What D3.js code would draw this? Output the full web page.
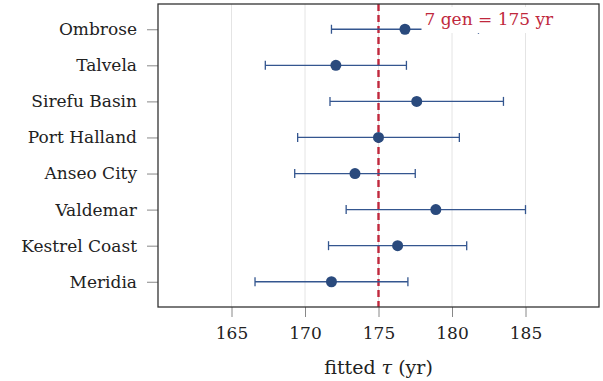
<!DOCTYPE html>
<html>
<head>
<meta charset="UTF-8">
<title>fitted tau</title>
<style>
body { margin: 0; background: #fff; }
svg text { font-family: "DejaVu Serif", serif; fill: #222; }
.grid line { stroke: #e4e4e4; stroke-width: 1; }
.tick text { font-size: 17px; }
.tick line { stroke: #888; }
.err { stroke: #34568f; stroke-width: 1.3; fill: none; }
.pt { fill: #2a4a7d; }
.ref { stroke: #c0283d; stroke-width: 2.4; stroke-dasharray: 7 4; }
</style>
</head>
<body>
<div class="chart"></div>
<script src="https://cdn.jsdelivr.net/npm/d3@7"></script>
<script>
// sites, top to bottom
const sites = ['Ombrose', 'Talvela', 'Sirefu Basin', 'Port Halland', 'Anseo City', 'Valdemar', 'Kestrel Coast', 'Meridia'];
const tauFit = [176.8, 172.1, 177.6, 175.0, 173.4, 178.9, 176.3, 171.8];
const tauLo  = [171.8, 167.3, 171.7, 169.5, 169.3, 172.8, 171.6, 166.6];
const tauHi  = [181.8, 176.9, 183.5, 180.5, 177.5, 185.0, 181.0, 177.0];
const xTicks = [165, 170, 175, 180, 185];
const refTau = 175;
const refLabel = '7 gen = 175 yr';

let width = 603, height = 381,
    margin = {top: 4, right: 4, bottom: 74, left: 158};

let svg = d3.select('.chart').append('svg')
    .attr('width', width)
    .attr('height', height);

let x = d3.scaleLinear()
    .domain([160, 190])
    .range([margin.left, width - margin.right]);

let y = d3.scalePoint()
    .domain(sites)
    .range([margin.top, height - margin.bottom])
    .padding(0.7);

// grid
svg.append('g').attr('class', 'grid')
    .selectAll('line').data(xTicks).join('line')
    .attr('x1', d => x(d)).attr('x2', d => x(d))
    .attr('y1', margin.top).attr('y2', height - margin.bottom);

// axes
let xAxis = svg.append('g')
    .attr('class', 'axis')
    .attr('transform', 'translate(0,' + (height - margin.bottom) + ')')
    .call(d3.axisBottom(x).tickValues(xTicks).tickSize(10).tickPadding(10));
xAxis.select('.domain').remove();

let yAxis = svg.append('g')
    .attr('class', 'axis')
    .attr('transform', 'translate(' + margin.left + ',0)')
    .call(d3.axisLeft(y).tickSize(11).tickPadding(10));
yAxis.select('.domain').remove();

// reference line
svg.append('line').attr('class', 'ref')
    .attr('x1', x(refTau)).attr('x2', x(refTau))
    .attr('y1', margin.top).attr('y2', height - margin.bottom);

// error bars
let rows = sites.map((s, i) => ({site: s, fit: tauFit[i], lo: tauLo[i], hi: tauHi[i]}));
let g = svg.append('g');
g.selectAll('.err-line').data(rows).join('line')
    .attr('class', 'err')
    .attr('x1', d => x(d.lo)).attr('x2', d => x(d.hi))
    .attr('y1', d => y(d.site)).attr('y2', d => y(d.site));
g.selectAll('.cap-lo').data(rows).join('line')
    .attr('class', 'err')
    .attr('x1', d => x(d.lo)).attr('x2', d => x(d.lo))
    .attr('y1', d => y(d.site) - 4.5).attr('y2', d => y(d.site) + 4.5);
g.selectAll('.cap-hi').data(rows).join('line')
    .attr('class', 'err')
    .attr('x1', d => x(d.hi)).attr('x2', d => x(d.hi))
    .attr('y1', d => y(d.site) - 4.5).attr('y2', d => y(d.site) + 4.5);
g.selectAll('circle').data(rows).join('circle')
    .attr('class', 'pt')
    .attr('cx', d => x(d.fit)).attr('cy', d => y(d.site))
    .attr('r', 5.5);

// label with opaque white box behind it
let labY = 25;
let labG = svg.append('g');
let box = labG.append('rect').attr('fill', '#fff');
let lab = labG.append('text')
    .attr('x', x(refTau) + 46).attr('y', labY)
    .style('font-size', '17px')
    .style('fill', '#c0283d')
    .text(refLabel);
let bb = lab.node().getBBox();
box.attr('x', bb.x - 3).attr('y', bb.y - 2)
    .attr('width', bb.width + 6).attr('height', labY + 8 - (bb.y - 2));

// frame
svg.append('rect')
    .attr('x', margin.left).attr('y', margin.top)
    .attr('width', width - margin.left - margin.right)
    .attr('height', height - margin.top - margin.bottom)
    .attr('fill', 'none').attr('stroke', '#333').attr('stroke-width', 1.3);

// x label
svg.append('text')
    .attr('x', (margin.left + width - margin.right) / 2)
    .attr('y', 374)
    .attr('text-anchor', 'middle')
    .style('font-size', '19px')
    .html('fitted <tspan font-style="italic">τ</tspan> (yr)');
</script>
</body>
</html>
